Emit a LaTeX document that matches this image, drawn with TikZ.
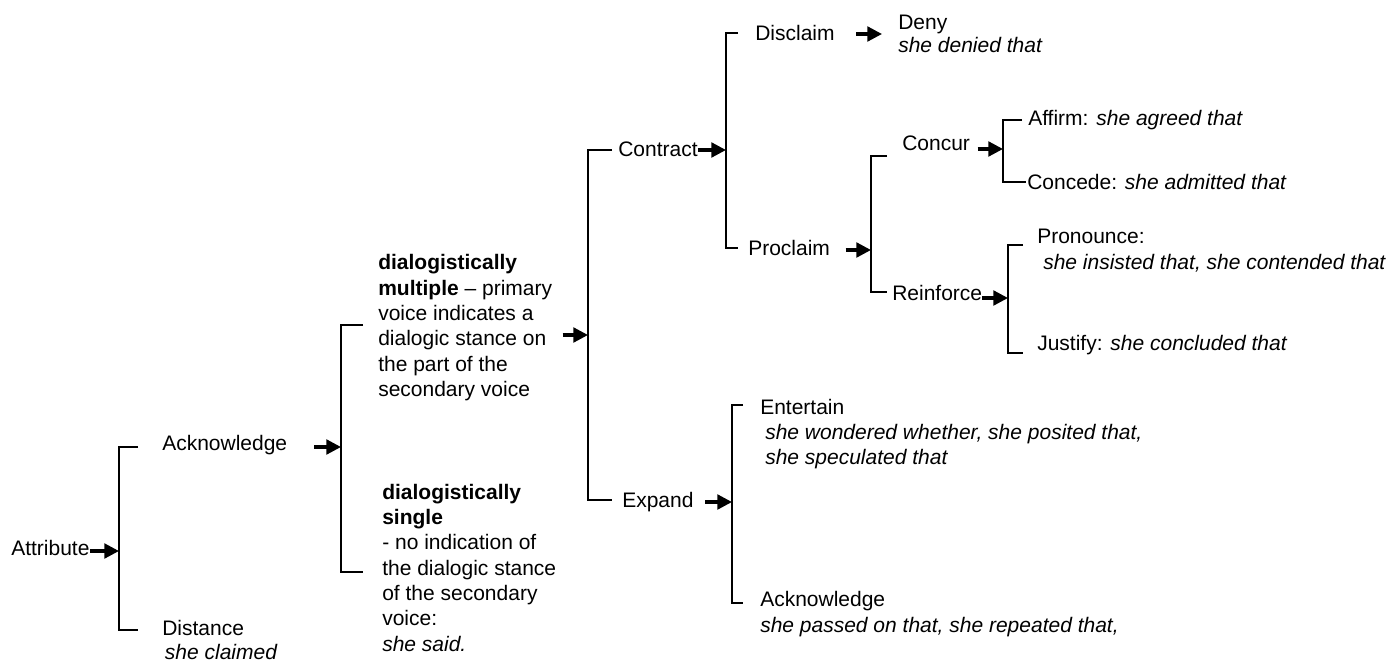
\documentclass[tikz,border=0pt]{standalone}
\usepackage{fontspec}
\setmainfont{Liberation Sans}
\usetikzlibrary{arrows.meta,calc}

\begin{document}
\begin{tikzpicture}[x=0.75pt,y=-0.75pt,
  lbl/.style={anchor=base west,inner sep=0pt,align=left,font=\fontsize{15.75}{19}\selectfont},
  brk/.style={line width=1.1pt},
  entry/.style={line width=2.4pt,-{Triangle[length=11pt,width=11pt]}}]

  \useasboundingbox (0,0) rectangle (1391,664);

  % Level 1 = Attribute
  \node[lbl] (attr) at (11,555) {Attribute};
  \coordinate (b1) at (119,551);
  \draw[brk] (138,447) -- (119,447) -- (119,630) -- (138,630);
  \draw[entry] (attr.east |- b1) -- (b1);
  \node[lbl] (ackA) at (162,450) {Acknowledge};
  \node[lbl] (dist) at (162,659) {Distance\\[-1pt]\hspace*{2pt}\textit{she claimed}};

  % Level 2 = dialogistic stance
  \coordinate (b2) at (341,447);
  \draw[brk] (363,325) -- (341,325) -- (341,572) -- (363,572);
  \draw[entry] ([xshift=-20pt]b2) -- (b2);
  \node[lbl] (mult) at (378,396.5) {\textbf{dialogistically}\\\textbf{multiple} – primary\\voice indicates a\\dialogic stance on\\the part of the\\secondary voice};
  \node[lbl] (sing) at (382,651) {\textbf{dialogistically}\\\textbf{single}\\- no indication of\\the dialogic stance\\of the secondary\\voice:\\\textit{she said.}};

  % Level 3 = Contract / Expand
  \coordinate (b3) at (588,335);
  \draw[brk] (612,150) -- (588,150) -- (588,500) -- (612,500);
  \draw[entry] ([xshift=-19pt]b3) -- (b3);
  \node[lbl] (contr) at (618,156) {Contract};
  \node[lbl] (expd) at (622,507) {Expand};

  % Contract = Disclaim / Proclaim
  \coordinate (b4) at (726,150);
  \draw[brk] (738,33) -- (726,33) -- (726,248) -- (738,248);
  \draw[entry] (contr.east |- b4) -- (b4);
  \node[lbl] (discl) at (755,40) {Disclaim};
  \node[lbl] (procl) at (748,255) {Proclaim};
  \coordinate (dn) at (882,34);
  \draw[entry] ([xshift=-19.5pt]dn) -- (dn);
  \node[lbl] (deny) at (898,52) {Deny\\[-2pt]\textit{she denied that}};

  % Proclaim = Concur / Reinforce
  \coordinate (b5) at (871,250);
  \draw[brk] (887,156) -- (871,156) -- (871,292) -- (887,292);
  \draw[entry] ([xshift=-19pt]b5) -- (b5);
  \node[lbl] (concur) at (902,150) {Concur};
  \node[lbl] (reinf) at (892,300) {Reinforce};

  % Concur = Affirm / Concede
  \coordinate (b6) at (1003,149);
  \draw[brk] (1022,120) -- (1003,120) -- (1003,182) -- (1026,182);
  \draw[entry] ([xshift=-19pt]b6) -- (b6);
  \node[lbl] (affirm) at (1028,125) {Affirm: \textit{she agreed that}};
  \node[lbl] (concede) at (1027,189) {Concede: \textit{she admitted that}};

  % Reinforce = Pronounce / Justify
  \coordinate (b7) at (1008,298);
  \draw[brk] (1023,245) -- (1008,245) -- (1008,353) -- (1023,353);
  \draw[entry] (reinf.east |- b7) -- (b7);
  \node[lbl] (pron) at (1037,269.3) {Pronounce:\\\hspace*{4.5pt}\textit{she insisted that, she contended that}};
  \node[lbl] (just) at (1037,350) {Justify: \textit{she concluded that}};

  % Expand = Entertain / Acknowledge
  \coordinate (b8) at (732,502);
  \draw[brk] (743,405) -- (732,405) -- (732,603) -- (743,603);
  \draw[entry] ([xshift=-20pt]b8) -- (b8);
  \node[lbl] (entert) at (760,464.7) {Entertain\\\hspace*{3.75pt}\textit{she wondered whether, she posited that,}\\\hspace*{3.75pt}\textit{she speculated that}};
  \node[lbl] (ackB) at (760,632.3) {Acknowledge\\\textit{she passed on that, she repeated that,}};

\end{tikzpicture}
\end{document}
